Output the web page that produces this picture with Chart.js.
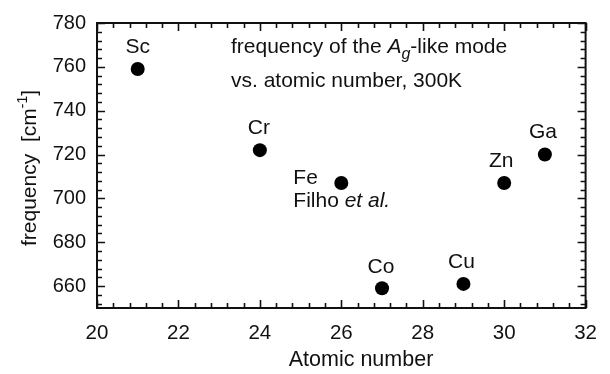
<!DOCTYPE html>
<html>
<head>
<meta charset="utf-8">
<script src="https://cdn.jsdelivr.net/npm/chart.js@4"></script>
<style>html,body{margin:0;padding:0;background:#fff}</style>
</head>
<body>
<canvas id="chart" width="610" height="374"></canvas>
<script>
// data
const elements = ["Sc", "Cr", "Fe", "Co", "Cu", "Zn", "Ga"];
const atomicNumbers = [21, 24, 26, 27, 29, 30, 31];
const frequencies = [759, 722, 707, 659, 661, 707, 720];
const xTicks = [20, 22, 24, 26, 28, 30, 32];
const yTicks = [660, 680, 700, 720, 740, 760, 780];

const FONT = '"Liberation Sans", Arial, sans-serif';
const INK = "#111";

// where each element label sits relative to its dot
const labelOffsets = {
    Sc: [0, -22], Cr: [-1, -22], Fe: [-48, -5, "left"], Co: [-1, -21],
    Cu: [-2, -22], Zn: [-3, -22], Ga: [-2, -22]
};

function drawRuns(ctx, runs, x, y, align, baseline) {
    // runs: [text, size, style, dy]
    let w = 0;
    runs.forEach(r => {
        ctx.font = `${r[2] || ""} ${r[1]}px ${FONT}`;
        w += ctx.measureText(r[0]).width;
    });
    let cx = align === "center" ? x - w / 2 : x;
    ctx.textAlign = "left";
    ctx.textBaseline = baseline || "middle";
    runs.forEach(r => {
        ctx.font = `${r[2] || ""} ${r[1]}px ${FONT}`;
        ctx.fillText(r[0], cx, y + (r[3] || 0));
        cx += ctx.measureText(r[0]).width;
    });
}

const framePlugin = {
    id: "frame",
    afterDraw(chart) {
        const { ctx, chartArea: a, scales: { x, y } } = chart;
        ctx.save();
        ctx.strokeStyle = INK;
        ctx.lineWidth = 2;
        ctx.strokeRect(a.left, a.top, a.right - a.left, a.bottom - a.top);
        ctx.lineWidth = 1.6;
        ctx.beginPath();
        // x ticks every 0.4, major every 2
        for (let i = 0; i <= 30; i++) {
            const px = Math.round(x.getPixelForValue(20 + i * 0.4)) + 0.5;
            const len = i % 5 === 0 ? 8 : 5;
            ctx.moveTo(px, a.bottom); ctx.lineTo(px, a.bottom - len);
            ctx.moveTo(px, a.top); ctx.lineTo(px, a.top + len);
        }
        // y ticks every 4, major every 20
        for (let i = 0; i <= 32; i++) {
            const py = Math.round(y.getPixelForValue(652 + i * 4)) + 0.5;
            const len = (i - 2) % 5 === 0 ? 8 : 5;
            ctx.moveTo(a.left, py); ctx.lineTo(a.left + len, py);
            ctx.moveTo(a.right, py); ctx.lineTo(a.right - len, py);
        }
        ctx.stroke();
        ctx.restore();
    }
};

const textPlugin = {
    id: "texts",
    afterDatasetsDraw(chart) {
        const { ctx } = chart;
        const meta = chart.getDatasetMeta(0);
        ctx.save();
        ctx.fillStyle = INK;

        meta.data.forEach((pt, i) => {
            const name = elements[i];
            const off = labelOffsets[name] || [0, -22];
            ctx.font = `21px ${FONT}`;
            ctx.textAlign = off[2] || "center";
            ctx.textBaseline = "middle";
            ctx.fillText(name, pt.x + off[0], pt.y + off[1]);
            if (name === "Fe") {
                drawRuns(ctx, [["Filho ", 21], ["et al.", 21, "italic"]],
                    pt.x + off[0], pt.y + 18, "left");
            }
        });

        drawRuns(ctx, [
            ["frequency of the ", 21], ["A", 21, "italic"],
            ["g", 16, "italic", 6], ["-like mode", 21]
        ], 231, 53, "left", "alphabetic");
        drawRuns(ctx, [["vs. atomic number, 300K", 21]], 231, 86.5, "left", "alphabetic");

        // axis titles
        drawRuns(ctx, [["Atomic number", 21.5]], 361, 366, "center", "alphabetic");
        ctx.save();
        ctx.translate(36, 168);
        ctx.rotate(-Math.PI / 2);
        drawRuns(ctx, [["frequency  [cm", 21], ["-1", 14, "", -9], ["]", 21]], 0, 0, "center", "alphabetic");
        ctx.restore();
        ctx.restore();
    }
};

new Chart(document.getElementById("chart"), {
    type: "scatter",
    data: {
        datasets: [{
            data: atomicNumbers.map((n, i) => ({ x: n, y: frequencies[i] })),
            backgroundColor: "#000",
            borderWidth: 0,
            pointRadius: 7
        }]
    },
    options: {
        responsive: false,
        animation: false,
        layout: { padding: { left: 0, right: 21, top: 18, bottom: 0 } },
        plugins: { legend: { display: false }, tooltip: { enabled: false } },
        scales: {
            x: {
                type: "linear", min: 20, max: 32,
                afterBuildTicks: s => { s.ticks = xTicks.map(v => ({ value: v })); },
                afterFit: s => { s.height = 66; },
                grid: { display: false, drawTicks: false },
                border: { display: false },
                ticks: { color: INK, font: { size: 20.5, family: FONT }, padding: 13, maxRotation: 0 }
            },
            y: {
                type: "linear", min: 650, max: 780,
                afterBuildTicks: s => { s.ticks = yTicks.map(v => ({ value: v })); },
                afterFit: s => { s.width = 97; },
                grid: { display: false, drawTicks: false },
                border: { display: false },
                ticks: { color: INK, font: { size: 20, family: FONT }, padding: 11 }
            }
        }
    },
    plugins: [framePlugin, textPlugin]
});
</script>
</body>
</html>
